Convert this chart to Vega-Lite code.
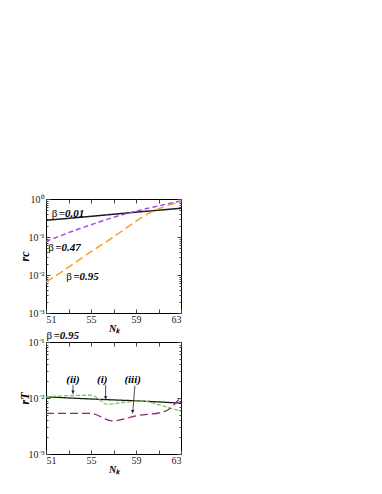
{
  "$schema": "https://vega.github.io/schema/vega-lite/v6.json",
  "padding": {"left": 17, "top": 193, "right": 0, "bottom": 0},
  "bounds": "flush",
  "spacing": 29,
  "resolve": {"scale": {"color": "independent", "strokeDash": "independent"}},
  "config": {
    "font": "Liberation Serif",
    "view": {"stroke": "black", "strokeWidth": 1},
    "axis": {"grid": false, "domain": false, "labelFont": "Liberation Serif", "labelFontSize": 10, "labelColor": "#222", "tickColor": "#444", "titleFont": "Liberation Serif", "titleFontStyle": "italic", "titleFontWeight": "bold", "titleFontSize": 11}
  },
  "datasets": {
    "top": [
      {"n": 51, "r": 0.275, "s": "b001"}, {"n": 55, "r": 0.35, "s": "b001"}, {"n": 59, "r": 0.45, "s": "b001"}, {"n": 63, "r": 0.57, "s": "b001"},
      {"n": 51, "r": 0.076, "s": "b047"}, {"n": 53, "r": 0.13, "s": "b047"}, {"n": 55, "r": 0.21, "s": "b047"}, {"n": 57, "r": 0.33, "s": "b047"}, {"n": 59, "r": 0.48, "s": "b047"}, {"n": 61, "r": 0.66, "s": "b047"}, {"n": 63, "r": 0.89, "s": "b047"},
      {"n": 51, "r": 0.0065, "s": "b095"}, {"n": 53, "r": 0.016, "s": "b095"}, {"n": 55, "r": 0.041, "s": "b095"}, {"n": 57, "r": 0.1, "s": "b095"}, {"n": 59, "r": 0.26, "s": "b095"}, {"n": 60.2, "r": 0.43, "s": "b095"}, {"n": 61, "r": 0.55, "s": "b095"}, {"n": 62, "r": 0.7, "s": "b095"}, {"n": 63, "r": 0.85, "s": "b095"}
    ],
    "bottom": [
      {"n": 51, "r": 0.0105, "s": "i"}, {"n": 55, "r": 0.0096, "s": "i"}, {"n": 59, "r": 0.0089, "s": "i"}, {"n": 63, "r": 0.0081, "s": "i"},
      {"n": 51, "r": 0.0105, "s": "ii"}, {"n": 53, "r": 0.011, "s": "ii"}, {"n": 55, "r": 0.0112, "s": "ii"}, {"n": 56.5, "r": 0.0077, "s": "ii"}, {"n": 58, "r": 0.0084, "s": "ii"}, {"n": 59.5, "r": 0.0088, "s": "ii"}, {"n": 61, "r": 0.0076, "s": "ii"}, {"n": 63, "r": 0.0058, "s": "ii"},
      {"n": 51, "r": 0.0053, "s": "iii"}, {"n": 55, "r": 0.0053, "s": "iii"}, {"n": 56.9, "r": 0.0039, "s": "iii"}, {"n": 59, "r": 0.0048, "s": "iii"}, {"n": 61.5, "r": 0.0057, "s": "iii"}, {"n": 63, "r": 0.0105, "s": "iii"}
    ],
    "toplabels": [
      {"n": 51.5, "r": 0.4, "v": "=0.01"},
      {"n": 51.2, "r": 0.05, "v": "=0.47"},
      {"n": 52.8, "r": 0.009, "v": "=0.95"}
    ],
    "botlabels": [
      {"n": 51.05, "r": 0.13, "v": "=0.95"}
    ],
    "tags": [
      {"n": 53.4, "r": 0.021, "v": "(ii)"},
      {"n": 56.0, "r": 0.021, "v": "(i)"},
      {"n": 58.7, "r": 0.021, "v": "(iii)"}
    ],
    "arrows": [
      {"n": 53.4, "r": 0.0172, "n2": 53.4, "r2": 0.0118},
      {"n": 56.3, "r": 0.0172, "n2": 56.3, "r2": 0.0093},
      {"n": 58.9, "r": 0.0165, "n2": 58.7, "r2": 0.0053}
    ]
  },
  "vconcat": [
    {
      "width": 135, "height": 114,
      "layer": [
        {
          "data": {"name": "top"},
          "mark": {"type": "line", "strokeWidth": 1.5, "interpolate": "monotone"},
          "encoding": {
            "x": {"field": "n", "type": "quantitative", "scale": {"domain": [51, 63], "nice": false, "zero": false},
              "axis": {"orient": "bottom", "values": [51, 53, 55, 57, 59, 61, 63], "labelExpr": "(datum.value - 51) % 4 == 0 ? datum.value : ''", "tickSize": -4, "labelPadding": 5, "title": "Nₖ", "titlePadding": -1, "titleFontSize": 10}},
            "y": {"field": "r", "type": "quantitative", "scale": {"type": "log", "domain": [0.001, 1], "nice": false},
              "axis": {"orient": "left", "values": [0.001, 0.002, 0.003, 0.004, 0.005, 0.006, 0.007, 0.008, 0.009, 0.01, 0.02, 0.03, 0.04, 0.05, 0.06, 0.07, 0.08, 0.09, 0.1, 0.2, 0.3, 0.4, 0.5, 0.6, 0.7, 0.8, 0.9, 1],
                "labelExpr": "datum.value == 1 ? '10⁰' : datum.value == 0.1 ? '10⁻¹' : datum.value == 0.01 ? '10⁻²' : datum.value == 0.001 ? '10⁻³' : ''",
                "tickSize": {"condition": {"test": "datum.value == 1 || datum.value == 0.1 || datum.value == 0.01 || datum.value == 0.001", "value": -4}, "value": -2},
                "labelPadding": 6, "title": "rc", "titlePadding": -3, "titleFontSize": 12}},
            "color": {"field": "s", "type": "nominal", "legend": null, "scale": {"domain": ["b001", "b047", "b095"], "range": ["#1a1a1a", "#a64de0", "#ff9a2a"]}},
            "strokeDash": {"field": "s", "type": "nominal", "legend": null, "scale": {"domain": ["b001", "b047", "b095"], "range": [[1, 0], [5, 3], [8, 4]]}}
          }
        },
        {
          "data": {"name": "top"},
          "mark": {"type": "point", "opacity": 0},
          "encoding": {
            "x": {"field": "n", "type": "quantitative", "axis": {"orient": "top", "values": [51, 53, 55, 57, 59, 61, 63], "labels": false, "tickSize": -4, "title": null}},
            "y": {"field": "r", "type": "quantitative", "axis": {"orient": "right", "values": [0.001, 0.002, 0.003, 0.004, 0.005, 0.006, 0.007, 0.008, 0.009, 0.01, 0.02, 0.03, 0.04, 0.05, 0.06, 0.07, 0.08, 0.09, 0.1, 0.2, 0.3, 0.4, 0.5, 0.6, 0.7, 0.8, 0.9, 1], "labels": false,
              "tickSize": {"condition": {"test": "datum.value == 1 || datum.value == 0.1 || datum.value == 0.01 || datum.value == 0.001", "value": -4}, "value": -2}, "title": null}}
          }
        },
        {
          "data": {"name": "toplabels"},
          "mark": {"type": "text", "align": "left", "baseline": "middle", "fontSize": 11, "fontStyle": "italic", "fontWeight": "bold", "dx": 7},
          "encoding": {
            "x": {"field": "n", "type": "quantitative", "axis": null},
            "y": {"field": "r", "type": "quantitative", "axis": null},
            "text": {"field": "v"}
          }
        },
        {
          "data": {"name": "toplabels"},
          "mark": {"type": "text", "align": "left", "baseline": "middle", "fontSize": 11, "text": "β"},
          "encoding": {
            "x": {"field": "n", "type": "quantitative", "axis": null},
            "y": {"field": "r", "type": "quantitative", "axis": null}
          }
        }
      ],
      "resolve": {"axis": {"x": "independent", "y": "independent"}}
    },
    {
      "width": 135, "height": 112,
      "layer": [
        {
          "data": {"name": "bottom"},
          "mark": {"type": "line", "strokeWidth": 1.3, "interpolate": "monotone"},
          "encoding": {
            "x": {"field": "n", "type": "quantitative", "scale": {"domain": [51, 63], "nice": false, "zero": false},
              "axis": {"orient": "bottom", "values": [51, 53, 55, 57, 59, 61, 63], "labelExpr": "(datum.value - 51) % 4 == 0 ? datum.value : ''", "tickSize": -4, "labelPadding": 5, "title": "Nₖ", "titlePadding": -1, "titleFontSize": 10}},
            "y": {"field": "r", "type": "quantitative", "scale": {"type": "log", "domain": [0.001, 0.1], "nice": false},
              "axis": {"orient": "left", "values": [0.001, 0.002, 0.003, 0.004, 0.005, 0.006, 0.007, 0.008, 0.009, 0.01, 0.02, 0.03, 0.04, 0.05, 0.06, 0.07, 0.08, 0.09, 0.1],
                "labelExpr": "datum.value == 0.1 ? '10⁻¹' : datum.value == 0.01 ? '10⁻²' : datum.value == 0.001 ? '10⁻³' : ''",
                "tickSize": {"condition": {"test": "datum.value == 0.1 || datum.value == 0.01 || datum.value == 0.001", "value": -4}, "value": -2},
                "labelPadding": 6, "title": "rT", "titlePadding": -3, "titleFontSize": 12}},
            "color": {"field": "s", "type": "nominal", "legend": null, "scale": {"domain": ["i", "ii", "iii"], "range": ["#1a1a1a", "#77cc44", "#8a2a78"]}},
            "strokeDash": {"field": "s", "type": "nominal", "legend": null, "scale": {"domain": ["i", "ii", "iii"], "range": [[1, 0], [4, 2], [8, 4]]}}
          }
        },
        {
          "data": {"name": "bottom"},
          "mark": {"type": "point", "opacity": 0},
          "encoding": {
            "x": {"field": "n", "type": "quantitative", "axis": {"orient": "top", "values": [51, 53, 55, 57, 59, 61, 63], "labels": false, "tickSize": -4, "title": null}},
            "y": {"field": "r", "type": "quantitative", "axis": {"orient": "right", "values": [0.001, 0.002, 0.003, 0.004, 0.005, 0.006, 0.007, 0.008, 0.009, 0.01, 0.02, 0.03, 0.04, 0.05, 0.06, 0.07, 0.08, 0.09, 0.1], "labels": false,
              "tickSize": {"condition": {"test": "datum.value == 0.1 || datum.value == 0.01 || datum.value == 0.001", "value": -4}, "value": -2}, "title": null}}
          }
        },
        {
          "data": {"name": "arrows"},
          "mark": {"type": "rule", "color": "#222", "strokeWidth": 0.8},
          "encoding": {
            "x": {"field": "n", "type": "quantitative", "axis": null},
            "y": {"field": "r", "type": "quantitative", "axis": null},
            "x2": {"field": "n2"},
            "y2": {"field": "r2"}
          }
        },
        {
          "data": {"name": "arrows"},
          "mark": {"type": "point", "shape": "triangle-down", "filled": true, "color": "#222", "size": 12, "opacity": 1, "yOffset": -2},
          "encoding": {
            "x": {"field": "n2", "type": "quantitative", "axis": null},
            "y": {"field": "r2", "type": "quantitative", "axis": null}
          }
        },
        {
          "data": {"name": "tags"},
          "mark": {"type": "text", "align": "center", "baseline": "middle", "fontSize": 11, "fontStyle": "italic", "fontWeight": "bold"},
          "encoding": {
            "x": {"field": "n", "type": "quantitative", "axis": null},
            "y": {"field": "r", "type": "quantitative", "axis": null},
            "text": {"field": "v"}
          }
        },
        {
          "data": {"name": "botlabels"},
          "mark": {"type": "text", "align": "left", "baseline": "middle", "fontSize": 11, "fontStyle": "italic", "fontWeight": "bold", "dx": 7},
          "encoding": {
            "x": {"field": "n", "type": "quantitative", "axis": null},
            "y": {"field": "r", "type": "quantitative", "axis": null},
            "text": {"field": "v"}
          }
        },
        {
          "data": {"name": "botlabels"},
          "mark": {"type": "text", "align": "left", "baseline": "middle", "fontSize": 11, "text": "β"},
          "encoding": {
            "x": {"field": "n", "type": "quantitative", "axis": null},
            "y": {"field": "r", "type": "quantitative", "axis": null}
          }
        }
      ],
      "resolve": {"axis": {"x": "independent", "y": "independent"}}
    }
  ]
}
